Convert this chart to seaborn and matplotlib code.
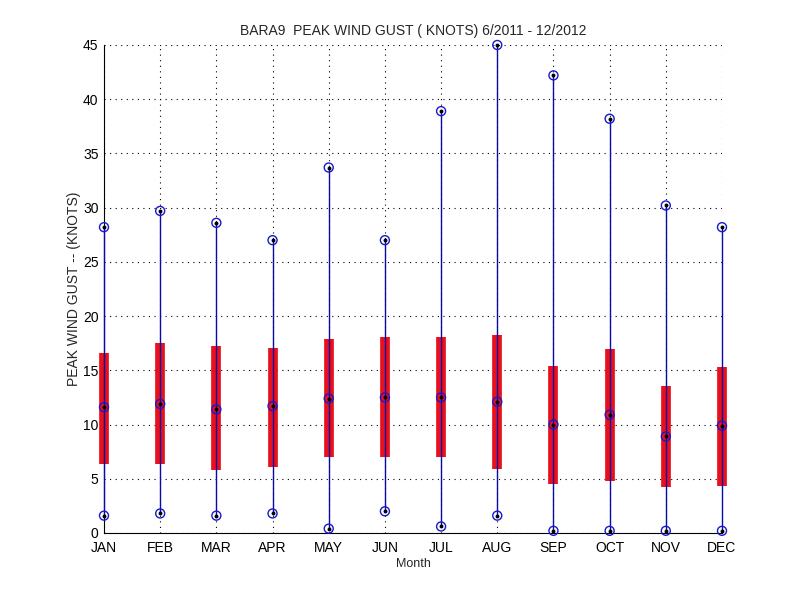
import numpy as np
import pandas as pd
import seaborn as sns
import matplotlib
matplotlib.use("Agg")
import matplotlib.pyplot as plt

sns.set_style("white")
plt.rcParams["font.family"] = ["Liberation Sans", "DejaVu Sans"]

# monthly peak wind gust statistics (knots)
months = ["JAN", "FEB", "MAR", "APR", "MAY", "JUN", "JUL", "AUG", "SEP", "OCT", "NOV", "DEC"]
gust_min = [1.6, 1.8, 1.6, 1.8, 0.4, 2.0, 0.6, 1.6, 0.2, 0.2, 0.2, 0.2]
gust_q1 = [6.4, 6.4, 5.8, 6.1, 7.0, 7.0, 7.0, 5.9, 4.5, 4.8, 4.2, 4.3]
gust_med = [11.6, 11.9, 11.4, 11.7, 12.4, 12.5, 12.5, 12.1, 10.0, 10.9, 8.9, 9.9]
gust_q3 = [16.6, 17.5, 17.2, 17.1, 17.9, 18.1, 18.1, 18.3, 15.4, 17.0, 13.6, 15.3]
gust_max = [28.2, 29.7, 28.6, 27.0, 33.7, 27.0, 38.9, 45.0, 42.2, 38.2, 30.2, 28.2]

df = pd.DataFrame({
    "month": np.arange(1, 13),
    "min": gust_min, "q1": gust_q1, "med": gust_med, "q3": gust_q3, "max": gust_max,
})
pts = df.melt(id_vars="month", value_vars=["min", "med", "max"], value_name="gust")

fig = plt.figure(figsize=(8, 6), dpi=100)
ax = fig.add_axes([0.13, 0.1117, 0.7725, 0.8133])

ax.vlines(df["month"], df["q1"], df["q3"], color="#e8101c", linewidth=7, zorder=2, clip_on=False)
ax.vlines(df["month"], df["min"], df["max"], color="#0a0aa8", linewidth=1, zorder=3, clip_on=False)
sns.scatterplot(data=pts, x="month", y="gust", ax=ax, marker="o", s=42,
                facecolor="none", edgecolor="#1818d0", linewidth=1.0, zorder=4, clip_on=False)
sns.scatterplot(data=pts, x="month", y="gust", ax=ax, marker="o", s=8,
                color="black", linewidth=0, zorder=5, clip_on=False)

ax.set_xlim(1, 12)
ax.set_ylim(0, 45)
ax.set_xticks(df["month"])
ax.set_xticklabels(months)
ax.set_yticks(range(0, 46, 5))
ax.tick_params(direction="in", length=4, width=0.8, labelsize=10, colors="black")
ax.tick_params(axis="x", pad=6)
ax.tick_params(axis="y", pad=4)
for s in ["top", "right"]:
    ax.spines[s].set_visible(False)
for s in ["left", "bottom"]:
    ax.spines[s].set_color("black")
    ax.spines[s].set_linewidth(0.8)
ax.grid(True, linestyle=(0, (1, 4)), color="black", linewidth=0.8)
ax.set_axisbelow(True)

ax.set_title("BARA9  PEAK WIND GUST ( KNOTS) 6/2011 - 12/2012", fontsize=10, pad=7)
ax.set_xlabel("Month", fontsize=9, labelpad=2)
ax.set_ylabel("PEAK WIND GUST -- (KNOTS)", fontsize=10, labelpad=1)

fig.savefig("out.png", dpi=100)
